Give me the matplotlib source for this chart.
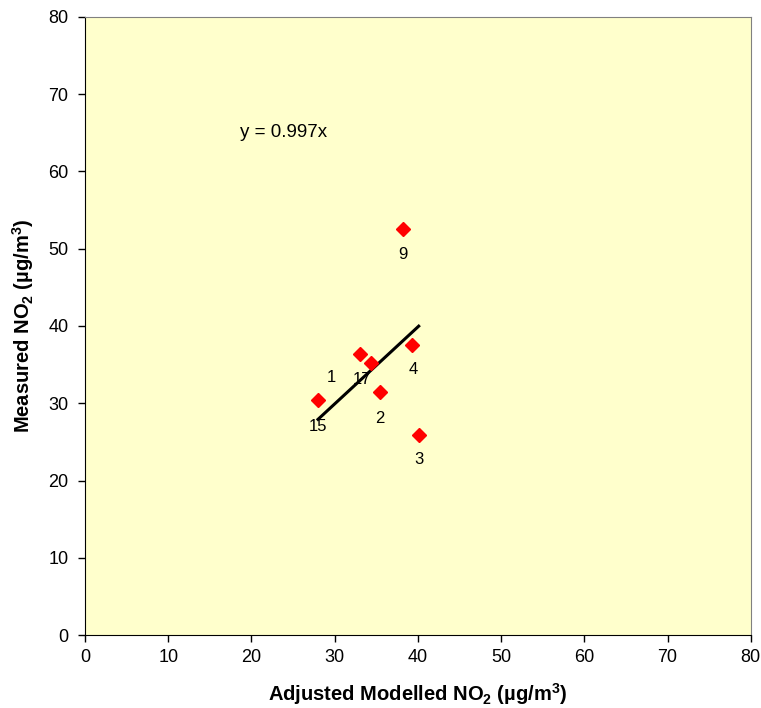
import matplotlib
matplotlib.use("Agg")
import matplotlib.pyplot as plt
import numpy as np

plt.rcParams['font.family'] = ['Liberation Sans', 'DejaVu Sans']
plt.rcParams['mathtext.default'] = 'regular'

# modelled vs measured NO2 at the diffusion tube sites
site_ids = ['1', '17', '2', '15', '4', '9', '3']
modelled = [33.0, 34.4, 35.4, 28.0, 39.3, 38.2, 40.1]
measured = [36.4, 35.2, 31.5, 30.4, 37.6, 52.5, 25.9]
slope = 0.997
fit_range = [28.0, 40.1]

# label offsets in points (dx, dy) for each site
label_offsets = [(-20, -17), (-7, -12), (0, -19), (0, -19), (1, -18), (0, -18), (0, -18)]

fig = plt.figure(figsize=(7.61, 7.08), dpi=100)
ax = fig.add_axes([0.1117, 0.1031, 0.8748, 0.8729])
ax.set_facecolor('#FFFFCC')

ax.plot(modelled, measured, linestyle='none', marker='D', markersize=7,
        color='#FF0000', markeredgecolor='#FF0000', zorder=3)

for sid, mx, my, off in zip(site_ids, modelled, measured, label_offsets):
    ax.annotate(sid, (mx, my), xytext=off, textcoords='offset points',
                ha='center', va='center', fontsize=12, zorder=4)

xs = np.array(fit_range)
ax.plot(xs, slope * xs, color='black', linewidth=2.2, zorder=2)
ax.text(18.6, 65, 'y = %.3fx' % slope, fontsize=13.5, ha='left', va='center')

ax.set_xlim(0, 80)
ax.set_ylim(0, 80)
ax.set_xticks(range(0, 81, 10))
ax.set_yticks(range(0, 81, 10))
ax.tick_params(direction='out', length=5, width=1, labelsize=13, pad=5)
ax.tick_params(axis='y', pad=7)

for side in ['top', 'right']:
    ax.spines[side].set_color('#808080')
for side in ['left', 'bottom']:
    ax.spines[side].set_color('black')

ax.set_xlabel('Adjusted Modelled NO$_2$ (µg/m$^3$)', fontsize=14.5,
              fontweight='bold', labelpad=11)
ax.set_ylabel('Measured NO$_2$ (µg/m$^3$)', fontsize=14.5,
              fontweight='bold', labelpad=9)

fig.savefig('out.png', dpi=100)
